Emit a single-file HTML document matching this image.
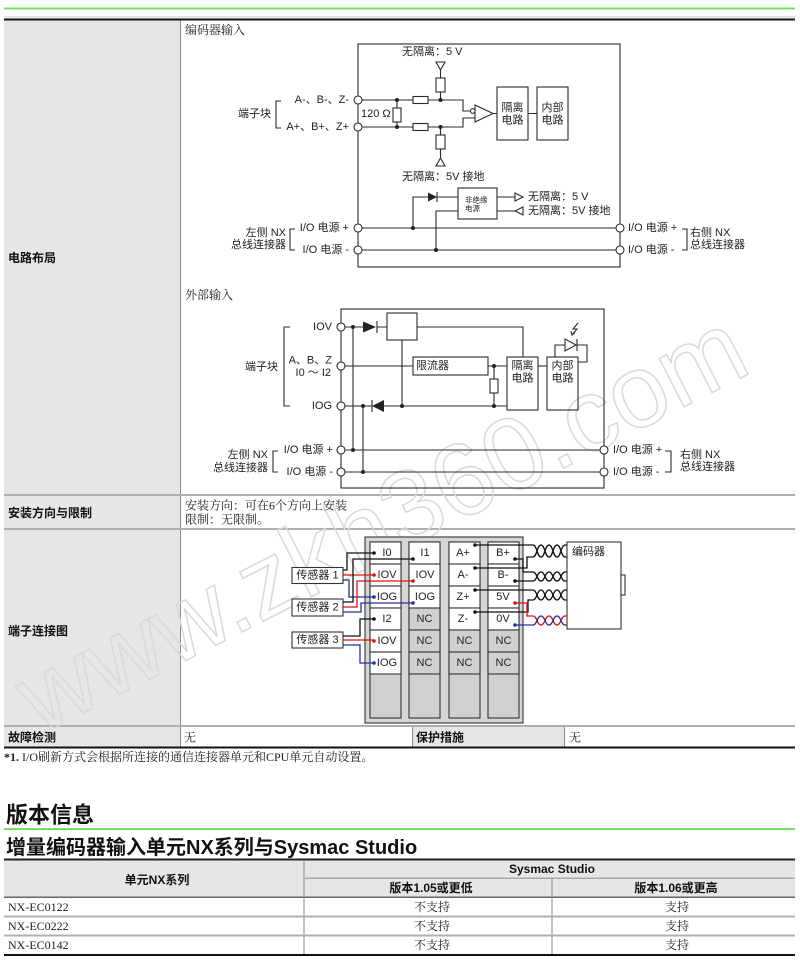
<!DOCTYPE html>
<html><head><meta charset="utf-8">
<style>
html,body{margin:0;padding:0;background:#fff;}
svg{display:block;}
text{dominant-baseline:central;}
.s{font-family:"Liberation Sans","Noto Sans CJK SC",sans-serif;font-size:11px;fill:#222;}
.sf{font-family:"Liberation Serif","Noto Serif CJK SC",serif;font-size:12px;fill:#222;}
.b{font-family:"Liberation Sans","Noto Sans CJK SC",sans-serif;font-size:12px;font-weight:bold;fill:#111;}
.ln{stroke:#2a2a2a;stroke-width:1.1;fill:none;}
.m{text-anchor:middle;}
.e{text-anchor:end;}
</style></head><body>
<svg width="800" height="962" viewBox="0 0 800 962" xmlns="http://www.w3.org/2000/svg">
<!-- top table background -->
<rect x="4" y="7.5" width="791" height="2" fill="#74e060"/>
<rect x="4" y="16.5" width="791" height="1" fill="#c8c8c8"/>
<rect x="4" y="18.5" width="791" height="2" fill="#111"/>
<rect x="4" y="20.5" width="176" height="727" fill="#e6e6e6"/>
<rect x="180" y="20.5" width="1" height="727" fill="#8a8a8a"/>
<rect x="4" y="494" width="791" height="2" fill="#b0b0b0"/>
<rect x="4" y="528" width="791" height="2" fill="#b0b0b0"/>
<rect x="4" y="725" width="791" height="2" fill="#b0b0b0"/>
<rect x="413" y="727" width="152" height="20" fill="#e6e6e6"/>
<rect x="412" y="727" width="1" height="20" fill="#8a8a8a"/>
<rect x="564" y="727" width="1" height="20" fill="#8a8a8a"/>
<rect x="4" y="746.5" width="791" height="2" fill="#111"/>

<!-- watermark -->
<text x="40" y="735" transform="rotate(-27 40 735)" style="dominant-baseline:alphabetic" font-family="Liberation Sans, sans-serif" font-size="103" fill="none" stroke="#d9d9d9" stroke-width="1.5">www.zkh360.com</text>

<!-- left labels -->
<text class="b" x="8" y="258">电路布局</text>
<text class="b" x="8" y="513">安装方向与限制</text>
<text class="b" x="8" y="631">端子连接图</text>
<text class="b" x="8" y="737.5">故障检测</text>
<text class="sf" x="184" y="737.5">无</text>
<text class="b" x="416" y="737.5">保护措施</text>
<text class="sf" x="569" y="737.5">无</text>

<text class="sf" x="185" y="505.5">安装方向：可在6个方向上安装</text>
<text class="sf" x="185" y="519.5">限制：无限制。</text>

<text class="sf" x="4" y="757"><tspan font-weight="bold">*1.</tspan> I/O刷新方式会根据所连接的通信连接器单元和CPU单元自动设置。</text>

<text class="sf" x="185" y="30">编码器输入</text>
<text class="sf" x="185" y="295">外部输入</text>

<!-- ENCODER INPUT CIRCUIT -->
<g class="ln">
<rect x="358" y="44" width="262" height="223"/>
<path d="M358,100 H413 M428,100 H463 V111 H470.4"/>
<path d="M358,127 H413 M428,127 H463 V118 H475"/>
<rect x="413" y="96.5" width="15" height="7"/>
<rect x="413" y="123.5" width="15" height="7"/>
<path d="M397,100 V108 M397,122 V127"/>
<rect x="393" y="108" width="8" height="14"/>
<path d="M440.5,100 V92 M440.5,78 V70"/>
<rect x="436" y="78" width="9" height="14"/>
<path d="M436,62 H445 L440.5,70 Z"/>
<path d="M440.5,127 V135 M440.5,149 V158"/>
<rect x="436" y="135" width="9" height="14"/>
<path d="M440.5,158 L445,166 H436 Z"/>
<path d="M475,105 V122 L493,113.5 Z"/>
<circle cx="472.7" cy="111" r="2.3" fill="#fff"/>
<path d="M493,113.5 H497 M528,113.5 H537"/>
<rect x="497" y="87" width="31" height="53"/>
<rect x="537" y="87" width="31" height="53"/>
<path d="M413,228 V197 H428 M437,197 H458"/>
<path d="M437,192 V202"/>
<rect x="458" y="188" width="39" height="31"/>
<path d="M497,197 H515 M497,211 H515"/>
<path d="M515,193 V201 L523,197 Z"/>
<path d="M523,207 V215 L515,211 Z"/>
<path d="M458,211 H436 V250"/>
<path d="M358,228 H620 M358,250 H620"/>
<path d="M281,101 H276 V128 H281"/>
<path d="M295,229 H290 V250 H295"/>
<path d="M682,229 H687 V250 H682"/>
</g>
<path d="M428,192.5 V201.5 L437,197 Z" fill="#222"/>
<g fill="#222">
<circle cx="397" cy="100" r="2"/><circle cx="397" cy="127" r="2"/>
<circle cx="440.5" cy="100" r="2"/><circle cx="440.5" cy="127" r="2"/>
<circle cx="413" cy="228" r="2"/><circle cx="436" cy="250" r="2"/>
</g>
<g fill="#fff" stroke="#2a2a2a" stroke-width="1.1">
<circle cx="358" cy="100" r="4"/><circle cx="358" cy="127" r="4"/>
<circle cx="358" cy="228" r="4"/><circle cx="358" cy="250" r="4"/>
<circle cx="620" cy="228" r="4"/><circle cx="620" cy="250" r="4"/>
</g>
<text class="s" x="402" y="52">无隔离：5 V</text>
<text class="s" x="402" y="177">无隔离：5V 接地</text>
<text class="s e" x="349" y="100">A-、B-、Z-</text>
<text class="s e" x="349" y="127">A+、B+、Z+</text>
<text class="s e" x="271" y="114">端子块</text>
<text class="s" x="361" y="114">120 Ω</text>
<text class="s m" x="512.5" y="108">隔离</text>
<text class="s m" x="512.5" y="120.5">电路</text>
<text class="s m" x="552.5" y="108">内部</text>
<text class="s m" x="552.5" y="120.5">电路</text>
<text class="s" x="465" y="200" style="font-size:7.5px">非绝缘</text>
<text class="s" x="465" y="208.5" style="font-size:7.5px">电源</text>
<text class="s" x="528" y="197">无隔离：5 V</text>
<text class="s" x="528" y="211">无隔离：5V 接地</text>
<text class="s e" x="349" y="228">I/O 电源 +</text>
<text class="s e" x="349" y="250">I/O 电源 -</text>
<text class="s e" x="286" y="233">左侧 NX</text>
<text class="s e" x="286" y="245">总线连接器</text>
<text class="s" x="628" y="228">I/O 电源 +</text>
<text class="s" x="628" y="250">I/O 电源 -</text>
<text class="s" x="690" y="233">右侧 NX</text>
<text class="s" x="690" y="245">总线连接器</text>

<!-- EXTERNAL INPUT CIRCUIT -->
<g class="ln">
<rect x="341" y="309" width="263" height="179"/>
<path d="M341,327 H363 M377,327 H387 M417,327 H523 V357"/>
<path d="M377,321 V333"/>
<rect x="387" y="313" width="30" height="27"/>
<path d="M402,340 V406"/>
<path d="M341,366 H413 M488,366 H507"/>
<rect x="413" y="357" width="75" height="18"/>
<path d="M494,366 V379 M494,393 V406"/>
<rect x="490" y="379" width="8" height="14"/>
<path d="M341,406 H372 M384,406 H507"/>
<path d="M372,400 V412"/>
<rect x="507" y="357" width="31" height="53"/>
<rect x="547" y="357" width="31" height="53"/>
<path d="M538,366 H547"/>
<path d="M555,357 V345 H565 M577,345 H587 V362 H578"/>
<path d="M565,339 V351 L576,345 Z"/>
<path d="M577,339 V351"/>
<path d="M578,323 L573,329 L577,329 L572,335"/>
<path d="M571,331 L572,335 L575,332.5"/>
<path d="M353,327 V450 M363,406 V472"/>
<path d="M341,450 H604 M341,472 H604"/>
<path d="M290,327 H284 V406 H290"/>
<path d="M278,451 H273 V472 H278"/>
<path d="M665,451 H671 V472 H665"/>
</g>
<path d="M363,321.5 V332.5 L376,327 Z" fill="#222"/>
<path d="M384,400 V412 L372,406 Z" fill="#222"/>
<g fill="#222">
<circle cx="353" cy="327" r="2"/><circle cx="353" cy="450" r="2"/>
<circle cx="363" cy="406" r="2"/><circle cx="363" cy="472" r="2"/>
<circle cx="402" cy="406" r="2"/><circle cx="494" cy="366" r="2"/>
<circle cx="494" cy="406" r="2"/>
</g>
<g fill="#fff" stroke="#2a2a2a" stroke-width="1.1">
<circle cx="341" cy="327" r="4"/><circle cx="341" cy="366" r="4"/>
<circle cx="341" cy="406" r="4"/><circle cx="341" cy="450" r="4"/>
<circle cx="341" cy="472" r="4"/><circle cx="604" cy="450" r="4"/>
<circle cx="604" cy="472" r="4"/>
</g>
<text class="s e" x="332" y="327">IOV</text>
<text class="s e" x="332" y="360.5">A、B、Z</text>
<text class="s e" x="331" y="373">I0 ～ I2</text>
<text class="s e" x="332" y="406">IOG</text>
<text class="s e" x="278" y="367">端子块</text>
<text class="s" x="416" y="366">限流器</text>
<text class="s m" x="522.5" y="366">隔离</text>
<text class="s m" x="522.5" y="378.5">电路</text>
<text class="s m" x="562.5" y="366">内部</text>
<text class="s m" x="562.5" y="378.5">电路</text>
<text class="s e" x="333" y="450">I/O 电源 +</text>
<text class="s e" x="333" y="472">I/O 电源 -</text>
<text class="s e" x="268" y="455">左侧 NX</text>
<text class="s e" x="268" y="468">总线连接器</text>
<text class="s" x="613" y="450">I/O 电源 +</text>
<text class="s" x="613" y="472">I/O 电源 -</text>
<text class="s" x="680" y="455">右侧 NX</text>
<text class="s" x="680" y="467">总线连接器</text>

<!-- TERMINAL CONNECTION DIAGRAM -->
<g stroke="#333" stroke-width="1.1">
<rect x="365" y="537" width="158" height="186" fill="#d6d6d6"/>
<rect x="370" y="542" width="31" height="176" fill="#d0d0d0"/>
<rect x="409" y="542" width="31" height="176" fill="#d0d0d0"/>
<rect x="449" y="542" width="31" height="176" fill="#d0d0d0"/>
<rect x="488" y="542" width="31" height="176" fill="#d0d0d0"/>
<!-- col1 -->
<rect x="370" y="542" width="31" height="22" fill="#fff"/>
<rect x="370" y="564" width="31" height="22" fill="#fff"/>
<rect x="370" y="586" width="31" height="22" fill="#fff"/>
<rect x="370" y="608" width="31" height="22" fill="#fff"/>
<rect x="370" y="630" width="31" height="22" fill="#fff"/>
<rect x="370" y="652" width="31" height="22" fill="#fff"/>
<!-- col2 -->
<rect x="409" y="542" width="31" height="22" fill="#fff"/>
<rect x="409" y="564" width="31" height="22" fill="#fff"/>
<rect x="409" y="586" width="31" height="22" fill="#fff"/>
<rect x="409" y="608" width="31" height="22" fill="#d0d0d0"/>
<rect x="409" y="630" width="31" height="22" fill="#d0d0d0"/>
<rect x="409" y="652" width="31" height="22" fill="#d0d0d0"/>
<!-- col3 -->
<rect x="449" y="542" width="31" height="22" fill="#fff"/>
<rect x="449" y="564" width="31" height="22" fill="#fff"/>
<rect x="449" y="586" width="31" height="22" fill="#fff"/>
<rect x="449" y="608" width="31" height="22" fill="#fff"/>
<rect x="449" y="630" width="31" height="22" fill="#d0d0d0"/>
<rect x="449" y="652" width="31" height="22" fill="#d0d0d0"/>
<!-- col4 -->
<rect x="488" y="542" width="31" height="22" fill="#fff"/>
<rect x="488" y="564" width="31" height="22" fill="#fff"/>
<rect x="488" y="586" width="31" height="22" fill="#fff"/>
<rect x="488" y="608" width="31" height="22" fill="#fff"/>
<rect x="488" y="630" width="31" height="22" fill="#d0d0d0"/>
<rect x="488" y="652" width="31" height="22" fill="#d0d0d0"/>
<!-- sensors & encoder -->
<rect x="292" y="567.5" width="51" height="16" fill="#fff"/>
<rect x="292" y="599" width="51" height="17" fill="#fff"/>
<rect x="292" y="632" width="51" height="16" fill="#fff"/>
<rect x="567" y="542" width="54" height="87" fill="#fff"/>
<rect x="621" y="575" width="4" height="20" fill="#fff"/>
</g>
<text class="s m" x="387" y="553">I0</text>
<text class="s m" x="387" y="575">IOV</text>
<text class="s m" x="387" y="597">IOG</text>
<text class="s m" x="387" y="619">I2</text>
<text class="s m" x="387" y="641">IOV</text>
<text class="s m" x="387" y="663">IOG</text>
<text class="s m" x="425" y="553">I1</text>
<text class="s m" x="425" y="575">IOV</text>
<text class="s m" x="425" y="597">IOG</text>
<text class="s m" x="424.5" y="619">NC</text>
<text class="s m" x="424.5" y="641">NC</text>
<text class="s m" x="424.5" y="663">NC</text>
<text class="s m" x="463" y="553">A+</text>
<text class="s m" x="463" y="575">A-</text>
<text class="s m" x="463" y="597">Z+</text>
<text class="s m" x="463" y="619">Z-</text>
<text class="s m" x="464.5" y="641">NC</text>
<text class="s m" x="464.5" y="663">NC</text>
<text class="s m" x="503" y="553">B+</text>
<text class="s m" x="503" y="575">B-</text>
<text class="s m" x="503" y="597">5V</text>
<text class="s m" x="503" y="619">0V</text>
<text class="s m" x="503.5" y="641">NC</text>
<text class="s m" x="503.5" y="663">NC</text>
<text class="s m" x="317.5" y="575.5">传感器 1</text>
<text class="s m" x="317.5" y="607.5">传感器 2</text>
<text class="s m" x="317.5" y="640">传感器 3</text>
<text class="s" x="572" y="552">编码器</text>

<!-- sensor wires -->
<g fill="none" stroke-width="1.3">
<path d="M343,570 H347 V553 H374" stroke="#111"/>
<path d="M343,575 H374" stroke="#e01010"/>
<path d="M343,580 H349 V597 H374" stroke="#22309a"/>
<path d="M343,602 H353 V559 H413" stroke="#111"/>
<path d="M343,607 H357 V581 H413" stroke="#e01010"/>
<path d="M343,612 H361 V603 H413" stroke="#22309a"/>
<path d="M343,636 H360 V619 H374" stroke="#111"/>
<path d="M343,640 H374" stroke="#e01010"/>
<path d="M343,645 H360 V663 H374" stroke="#22309a"/>
<!-- encoder wires -->
<path d="M475,545 H533" stroke="#111"/>
<path d="M475,568 H527 V557 H533" stroke="#111"/>
<path d="M515,559 H523 V572 H533" stroke="#111"/>
<path d="M515,581 H533" stroke="#111"/>
<path d="M475,590 H533" stroke="#111"/>
<path d="M475,612 H528 V600 H533" stroke="#111"/>
<path d="M515,603 H527 V616 H533" stroke="#e01010"/>
<path d="M515,625 H533" stroke="#22309a"/>
<!-- twists -->
<path d="M533,545 C537,545 537,557 541,557 C545,557 545,545 549,545 C553,545 553,557 557,557 C561,557 561,545 565,545 H567" stroke="#111"/>
<path d="M533,557 C537,557 537,545 541,545 C545,545 545,557 549,557 C553,557 553,545 557,545 C561,545 561,557 565,557 H567" stroke="#111"/>
<path d="M533,572 C537,572 537,581 541,581 C545,581 545,572 549,572 C553,572 553,581 557,581 C561,581 561,572 565,572 H567" stroke="#111"/>
<path d="M533,581 C537,581 537,572 541,572 C545,572 545,581 549,581 C553,581 553,572 557,572 C561,572 561,581 565,581 H567" stroke="#111"/>
<path d="M533,590 C537,590 537,600 541,600 C545,600 545,590 549,590 C553,590 553,600 557,600 C561,600 561,590 565,590 H567" stroke="#111"/>
<path d="M533,600 C537,600 537,590 541,590 C545,590 545,600 549,600 C553,600 553,590 557,590 C561,590 561,600 565,600 H567" stroke="#111"/>
<path d="M533,616 C537,616 537,625 541,625 C545,625 545,616 549,616 C553,616 553,625 557,625 C561,625 561,616 565,616 H567" stroke="#e01010"/>
<path d="M533,625 C537,625 537,616 541,616 C545,616 545,625 549,625 C553,625 553,616 557,616 C561,616 561,625 565,625 H567" stroke="#22309a"/>
</g>
<g>
<circle cx="374" cy="553" r="1.8" fill="#111"/>
<circle cx="374" cy="575" r="1.8" fill="#e01010"/>
<circle cx="374" cy="597" r="1.8" fill="#22309a"/>
<circle cx="374" cy="619" r="1.8" fill="#111"/>
<circle cx="374" cy="641" r="1.8" fill="#e01010"/>
<circle cx="374" cy="663" r="1.8" fill="#22309a"/>
<circle cx="413" cy="559" r="1.8" fill="#111"/>
<circle cx="413" cy="581" r="1.8" fill="#e01010"/>
<circle cx="413" cy="603" r="1.8" fill="#22309a"/>
<circle cx="475" cy="545" r="1.8" fill="#111"/>
<circle cx="475" cy="568" r="1.8" fill="#111"/>
<circle cx="475" cy="590" r="1.8" fill="#111"/>
<circle cx="475" cy="612" r="1.8" fill="#111"/>
<circle cx="515" cy="559" r="1.8" fill="#111"/>
<circle cx="515" cy="581" r="1.8" fill="#111"/>
<circle cx="515" cy="603" r="1.8" fill="#e01010"/>
<circle cx="515" cy="625" r="1.8" fill="#22309a"/>
</g>

<!-- VERSION INFO -->
<text x="6" y="815" font-family="Liberation Sans, Noto Sans CJK SC, sans-serif" font-size="22" font-weight="bold" fill="#111">版本信息</text>
<rect x="4" y="828" width="791" height="2" fill="#74e060"/>
<text x="6" y="848" font-family="Liberation Sans, Noto Sans CJK SC, sans-serif" font-size="20" font-weight="bold" fill="#111">增量编码器输入单元NX系列与Sysmac Studio</text>
<rect x="4" y="860" width="791" height="37" fill="#e6e6e6"/>
<rect x="4" y="858.5" width="791" height="2" fill="#222"/>
<rect x="305" y="877.5" width="490" height="1.5" fill="#aaa"/>
<rect x="4" y="896.5" width="791" height="1.5" fill="#666"/>
<rect x="303.5" y="860" width="1" height="95" fill="#888"/>
<rect x="551.5" y="878" width="1" height="77" fill="#888"/>
<rect x="4" y="915.5" width="791" height="2" fill="#b0b0b0"/>
<rect x="4" y="934.5" width="791" height="2" fill="#b0b0b0"/>
<rect x="4" y="954" width="791" height="2" fill="#111"/>
<text class="b m" x="552" y="869">Sysmac Studio</text>
<text class="b m" x="157" y="880">单元NX系列</text>
<text class="b m" x="431" y="888">版本1.05或更低</text>
<text class="b m" x="676" y="888">版本1.06或更高</text>
<text class="sf" x="8" y="907">NX-EC0122</text>
<text class="sf" x="8" y="926">NX-EC0222</text>
<text class="sf" x="8" y="945">NX-EC0142</text>
<text class="sf m" x="432" y="907">不支持</text>
<text class="sf m" x="432" y="926">不支持</text>
<text class="sf m" x="432" y="945">不支持</text>
<text class="sf m" x="677" y="907">支持</text>
<text class="sf m" x="677" y="926">支持</text>
<text class="sf m" x="677" y="945">支持</text>
</svg>
</body></html>
